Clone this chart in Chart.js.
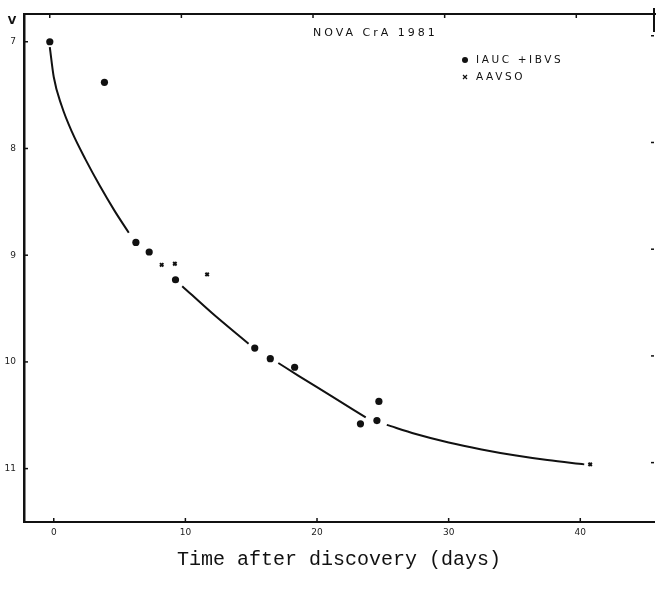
<!DOCTYPE html>
<html><head><meta charset="utf-8">
<script src="https://cdn.jsdelivr.net/npm/chart.js@4/dist/chart.umd.min.js"></script>
<style>html,body{margin:0;padding:0;background:#fff}</style>
</head><body>
<canvas id="c" width="660" height="594"></canvas>
<script>
// ---- data ----
const chartTitle = 'NOVA CrA 1981';
const xAxisTitle = 'Time after discovery (days)';
const yAxisLabel = 'V';
const legendIauc = 'IAUC +IBVS';
const legendAavso = 'AAVSO';
const xTicks = [0, 10, 20, 30, 40];
const yTicks = [7, 8, 9, 10, 11];
const iaucDays = [-0.3, 3.85, 6.24, 7.25, 9.25, 15.27, 16.45, 18.3, 23.3, 24.55, 24.7];
const iaucMags = [7.0, 7.38, 8.88, 8.97, 9.23, 9.87, 9.97, 10.05, 10.58, 10.55, 10.37];
const aavsoDays = [8.2, 9.2, 11.65, 40.75];
const aavsoMags = [9.09, 9.08, 9.18, 10.96];
const curveDays = [-0.3, 0.0, 0.6, 1.4, 2.4, 3.5, 4.6, 5.7, 7.5,
                   9.76, 12.0, 14.8, 16.0,
                   17.06, 18.6, 21.1, 23.7, 24.5,
                   25.3, 27.5, 30.0, 32.5, 35.0, 37.5, 40.3];
const curveMags = [7.05, 7.33, 7.60, 7.85, 8.10, 8.35, 8.58, 8.79, null,
                   9.29, 9.54, 9.83, null,
                   10.01, 10.13, 10.32, 10.52, null,
                   10.59, 10.675, 10.755, 10.82, 10.875, 10.92, 10.96];

const toXY = (xs, ys) => xs.map((x, i) => ({x: x, y: ys[i]}));
const INK = '#111';

const framePlugin = {
  id: 'frame',
  afterDraw(chart) {
    const ctx = chart.ctx, a = chart.chartArea;
    const xs = chart.scales.x, ys = chart.scales.y;
    ctx.save();
    ctx.strokeStyle = INK; ctx.fillStyle = INK;
    // top frame line
    ctx.lineWidth = 2;
    ctx.beginPath(); ctx.moveTo(a.left - 1, a.top); ctx.lineTo(a.right + 2, a.top); ctx.stroke();
    // short right edge near top corner
    ctx.beginPath(); ctx.moveTo(a.right, a.top - 6); ctx.lineTo(a.right, a.top + 18); ctx.stroke();
    // inward ticks
    ctx.lineWidth = 1.5;
    xTicks.forEach(v => {
      const px = xs.getPixelForValue(v);
      ctx.beginPath(); ctx.moveTo(px, a.bottom); ctx.lineTo(px, a.bottom - 4); ctx.stroke();
      const pt = px - 4;
      ctx.beginPath(); ctx.moveTo(pt, a.top); ctx.lineTo(pt, a.top + 4); ctx.stroke();
    });
    yTicks.forEach(v => {
      const py = ys.getPixelForValue(v);
      ctx.beginPath(); ctx.moveTo(a.left, py); ctx.lineTo(a.left + 4, py); ctx.stroke();
      const pr = py - 6;
      ctx.beginPath(); ctx.moveTo(a.right, pr); ctx.lineTo(a.right - 3, pr); ctx.stroke();
    });
    // V label
    ctx.font = 'bold 11px "DejaVu Sans"';
    ctx.textAlign = 'center'; ctx.textBaseline = 'middle';
    ctx.fillText(yAxisLabel, 12, 21);
    // title inside plot
    ctx.textAlign = 'left';
    ctx.font = '500 11px "DejaVu Sans"';
    ctx.letterSpacing = '3px';
    ctx.fillText(chartTitle, 313, 33);
    // legend
    ctx.font = '500 10.5px "DejaVu Sans"';
    ctx.letterSpacing = '2.6px';
    ctx.beginPath(); ctx.arc(465, 60, 3, 0, Math.PI * 2); ctx.fill();
    ctx.fillText(legendIauc, 476, 60);
    ctx.lineWidth = 1.2;
    ctx.beginPath(); ctx.moveTo(463, 75); ctx.lineTo(467, 79); ctx.moveTo(467, 75); ctx.lineTo(463, 79); ctx.stroke();
    ctx.fillText(legendAavso, 476, 77);
    ctx.restore();
  }
};

new Chart(document.getElementById('c'), {
  type: 'scatter',
  data: {
    datasets: [
      {
        label: 'curve', type: 'line', data: toXY(curveDays, curveMags),
        borderColor: INK, borderWidth: 2, pointRadius: 0, fill: false,
        spanGaps: false, cubicInterpolationMode: 'monotone'
      },
      {
        label: legendIauc, data: toXY(iaucDays, iaucMags),
        pointStyle: 'circle', pointRadius: 3.6, backgroundColor: INK, borderColor: INK, borderWidth: 0
      },
      {
        label: legendAavso, data: toXY(aavsoDays, aavsoMags),
        pointStyle: 'crossRot', pointRadius: 2.4, borderColor: INK, borderWidth: 2
      }
    ]
  },
  options: {
    responsive: false, animation: false, devicePixelRatio: 1,
    layout: {padding: {top: 14, right: 2, left: 0, bottom: 0}},
    plugins: {legend: {display: false}, tooltip: {enabled: false}, title: {display: false}},
    scales: {
      x: {
        type: 'linear', min: -2.26, max: 45.6,
        afterBuildTicks: s => { s.ticks = xTicks.map(v => ({value: v})); },
        afterFit: s => { s.height = 72; },
        grid: {display: false, drawTicks: false},
        border: {display: true, color: INK, width: 2},
        ticks: {font: {family: '"DejaVu Sans"', size: 9}, color: '#222', padding: 5},
        title: {display: true, text: xAxisTitle, color: INK,
                font: {family: '"Liberation Mono"', size: 20, lineHeight: 1.2},
                padding: {top: 0, bottom: 22}}
      },
      y: {
        type: 'linear', min: 6.74, max: 11.5, reverse: true,
        afterBuildTicks: s => { s.ticks = yTicks.map(v => ({value: v})); },
        afterFit: s => { s.width = 24; },
        grid: {display: false, drawTicks: false},
        border: {display: true, color: INK, width: 2.5},
        ticks: {font: {family: '"DejaVu Sans"', size: 9}, color: '#222', padding: 8}
      }
    }
  },
  plugins: [framePlugin]
});
</script>
</body></html>
